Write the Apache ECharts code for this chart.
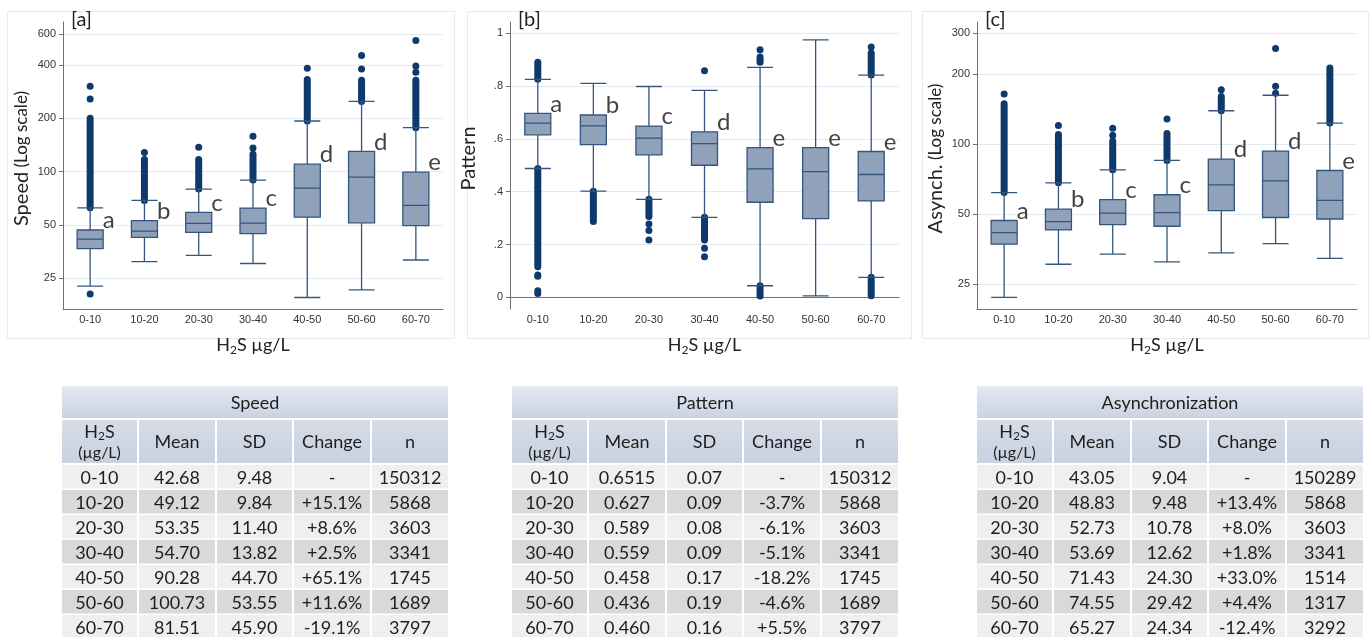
<!DOCTYPE html>
<html><head><meta charset="utf-8">
<script src="https://cdn.jsdelivr.net/npm/echarts@6/dist/echarts.min.js"></script>
<style>html,body{margin:0;padding:0;background:#fff}#c{width:1370px;height:637px}</style>
</head><body><div id="c"></div><script>
// ---------------- data ----------------
const categories = ['0-10', '10-20', '20-30', '30-40', '40-50', '50-60', '60-70'];

// boxplot: [lower whisker, Q1, median, Q3, upper whisker]
const speedBox = [
  [22.5, 36.6, 41.5, 46.7, 62.3],
  [30.9, 42.4, 46.0, 52.7, 68.6],
  [33.6, 45.3, 50.9, 58.7, 79.5],
  [30.2, 44.5, 51.1, 62.1, 89.4],
  [19.4, 55.2, 80.5, 110, 193],
  [21.4, 51.3, 92.9, 130, 249],
  [31.6, 49.4, 64.3, 99.1, 177]
];
// dense outlier runs: [category index, from, to]
const speedOutlierRuns = [[0, 62.3, 200], [1, 68.6, 117], [2, 79.5, 117], [3, 89.4, 125], [4, 193, 331], [5, 249, 328], [6, 177, 328]];
// single outliers: [category index, value]
const speedOutliers = [[0, 20.3], [0, 257], [0, 303], [1, 128], [2, 137], [3, 136], [3, 158], [4, 383], [5, 380], [5, 453], [6, 364], [6, 395], [6, 551]];
const speedLetters = ['a', 'b', 'c', 'c', 'd', 'd', 'e'];
const speedTicks = [25, 50, 100, 200, 400, 600];

const patternBox = [
  [0.4876, 0.615, 0.659, 0.696, 0.825],
  [0.402, 0.578, 0.649, 0.690, 0.810],
  [0.371, 0.539, 0.6025, 0.648, 0.798],
  [0.303, 0.500, 0.582, 0.6265, 0.783],
  [0.044, 0.360, 0.486, 0.567, 0.870],
  [0.006, 0.298, 0.476, 0.567, 0.974],
  [0.076, 0.365, 0.465, 0.552, 0.841]
];
const patternOutlierRuns = [[0, 0.825, 0.89], [0, 0.116, 0.4876], [1, 0.287, 0.402], [2, 0.306, 0.371], [3, 0.217, 0.303], [4, 0.89, 0.91], [4, 0.005, 0.044], [6, 0.841, 0.925], [6, 0.006, 0.076]];
const patternOutliers = [[0, 0.085], [0, 0.08], [0, 0.025], [0, 0.015], [2, 0.278], [2, 0.253], [2, 0.217], [3, 0.858], [3, 0.186], [3, 0.154], [4, 0.937], [6, 0.947]];
const patternLetters = ['a', 'b', 'c', 'd', 'e', 'e', 'e'];
const patternTicks = [0, 0.2, 0.4, 0.6, 0.8, 1];

const asynchBox = [
  [22.0, 37.2, 41.7, 47.0, 61.9],
  [30.5, 42.8, 46.5, 52.6, 68.2],
  [33.7, 45.1, 50.5, 57.8, 77.5],
  [31.2, 44.4, 50.8, 60.6, 85.1],
  [34.1, 51.8, 66.8, 86.2, 139],
  [37.4, 48.4, 69.5, 93.3, 162],
  [32.3, 47.7, 57.3, 77.0, 123]
];
const asynchOutlierRuns = [[0, 61.9, 149], [1, 68.2, 110], [2, 77.5, 103], [3, 85.1, 111], [4, 139, 160], [6, 123, 212]];
const asynchOutliers = [[0, 164], [1, 120], [2, 109], [2, 117], [3, 128], [4, 171], [5, 165], [5, 177], [5, 257]];
const asynchLetters = ['a', 'b', 'c', 'c', 'd', 'd', 'e'];
const asynchTicks = [25, 50, 100, 200, 300];

// tables
const tableColumns = ['H2S', 'Mean', 'SD', 'Change', 'n'];
const speedMean = ['42.68', '49.12', '53.35', '54.70', '90.28', '100.73', '81.51'];
const speedSD = ['9.48', '9.84', '11.40', '13.82', '44.70', '53.55', '45.90'];
const speedChange = ['-', '+15.1%', '+8.6%', '+2.5%', '+65.1%', '+11.6%', '-19.1%'];
const speedN = ['150312', '5868', '3603', '3341', '1745', '1689', '3797'];

const patternMean = ['0.6515', '0.627', '0.589', '0.559', '0.458', '0.436', '0.460'];
const patternSD = ['0.07', '0.09', '0.08', '0.09', '0.17', '0.19', '0.16'];
const patternChange = ['-', '-3.7%', '-6.1%', '-5.1%', '-18.2%', '-4.6%', '+5.5%'];
const patternN = ['150312', '5868', '3603', '3341', '1745', '1689', '3797'];

const asynchMean = ['43.05', '48.83', '52.73', '53.69', '71.43', '74.55', '65.27'];
const asynchSD = ['9.04', '9.48', '10.78', '12.62', '24.30', '29.42', '24.34'];
const asynchChange = ['-', '+13.4%', '+8.0%', '+1.8%', '+33.0%', '+4.4%', '-12.4%'];
const asynchN = ['150289', '5868', '3603', '3341', '1514', '1317', '3292'];

// ---------------- styling / layout ----------------
const DOT = '#0d3a6b';
const BOX_FILL = '#8fa2ba';
const BOX_LINE = '#34557e';
const AXIS = '#707070';
const GRIDLINE = '#e3ebf0';
const TICKFONT = 'Liberation Sans, Arial, sans-serif';
const TEXTFONT = 'Lato, sans-serif';

const panels = [
  { key: 'a', box: speedBox, runs: speedOutlierRuns, pts: speedOutliers, letters: speedLetters, ticks: speedTicks,
    log: true, min: 16.7, max: 700, left: 63, width: 380, yname: '{a|Speed}{b| (Log scale)}', tag: '[a]', frame: [7, 11, 447, 327] },
  { key: 'b', box: patternBox, runs: patternOutlierRuns, pts: patternOutliers, letters: patternLetters, ticks: patternTicks,
    log: false, min: -0.044, max: 1.042, left: 510, width: 389, yname: '{a|Pattern}', tag: '[b]', frame: [467, 11, 444, 327] },
  { key: 'c', box: asynchBox, runs: asynchOutlierRuns, pts: asynchOutliers, letters: asynchLetters, ticks: asynchTicks,
    log: true, min: 19.6, max: 334, left: 977, width: 380, yname: '{a|Asynch.}{b| (Log scale)}', tag: '[c]', frame: [922, 11, 446, 327] }
];

const grids = [], xAxes = [], yAxes = [], series = [], graphics = [];

function runRender(params, api) {
  const x = api.value(0);
  const a = api.coord([x, api.value(1)]);
  const b = api.coord([x, api.value(2)]);
  return { type: 'line', shape: { x1: a[0], y1: a[1], x2: b[0], y2: b[1] },
    style: { stroke: DOT, lineWidth: 7, lineCap: 'round' } };
}

panels.forEach((p, i) => {
  graphics.push({ type: 'rect', z: -10, shape: { x: p.frame[0] + 0.5, y: p.frame[1] + 0.5, width: p.frame[2], height: p.frame[3] },
    style: { fill: 'none', stroke: '#e6e9ee', lineWidth: 1 } });
  graphics.push({ type: 'text', x: p.left + 8, y: 10, z: 10,
    style: { text: p.tag, fontSize: 20, fontFamily: TEXTFONT, fill: '#222' } });

  grids.push({ left: p.left, top: 22, width: p.width, height: 287 });
  xAxes.push({
    gridIndex: i, type: 'category', data: categories,
    axisLine: { lineStyle: { color: AXIS, width: 1 } },
    axisTick: { show: false },
    axisLabel: { color: '#333', fontSize: 11, fontFamily: TICKFONT, margin: 5 },
    splitLine: { show: false },
    name: '{n|H}{s|2}{n|S µg/L}', nameLocation: 'middle', nameGap: 25,
    nameTextStyle: { rich: {
      n: { fontSize: 18, fontFamily: TEXTFONT, color: '#222', lineHeight: 22 },
      s: { fontSize: 12, fontFamily: TEXTFONT, color: '#222', lineHeight: 11, verticalAlign: 'bottom' } } }
  });
  yAxes.push({
    gridIndex: i, type: p.log ? 'log' : 'value', logBase: 10, min: p.min, max: p.max,
    axisLine: { show: true, lineStyle: { color: AXIS, width: 1 } },
    axisTick: { show: true, length: 4, lineStyle: { color: AXIS }, customValues: p.ticks },
    axisLabel: { color: '#333', fontSize: 11, fontFamily: TICKFONT, margin: 7, customValues: p.ticks,
      formatter: p.log ? (v => String(Math.round(v))) : (v => v === 0 ? '0' : (v === 1 ? '1' : '.' + Math.round(v * 10))) },
    splitLine: { show: true, lineStyle: { color: GRIDLINE, width: 1 } },
    name: p.yname, nameLocation: 'middle', nameGap: 31, nameRotate: 90,
    nameTextStyle: { padding: [0, 0, 0, 14], rich: {
      a: { fontSize: 20, fontFamily: TEXTFONT, color: '#222' },
      b: { fontSize: 17, fontFamily: TEXTFONT, color: '#222' } } }
  });

  series.push({
    type: 'custom', xAxisIndex: i, yAxisIndex: i, z: 2, silent: true,
    renderItem: runRender, encode: { x: 0, y: [1, 2] }, data: p.runs
  });
  series.push({
    type: 'scatter', xAxisIndex: i, yAxisIndex: i, z: 2, silent: true,
    symbolSize: 7, itemStyle: { color: DOT, opacity: 1 }, data: p.pts
  });
  series.push({
    type: 'boxplot', xAxisIndex: i, yAxisIndex: i, z: 3, silent: true,
    boxWidth: [26, 26],
    itemStyle: { color: BOX_FILL, borderColor: BOX_LINE, borderWidth: 1.3 },
    data: p.box
  });
  series.push({
    type: 'scatter', xAxisIndex: i, yAxisIndex: i, z: 4, silent: true,
    symbolSize: 1, itemStyle: { color: 'rgba(0,0,0,0)' },
    data: p.box.map((b, k) => [k, b[3]]),
    label: { show: true, position: [13, 3], align: 'left', verticalAlign: 'bottom',
      formatter: q => p.letters[q.dataIndex], fontSize: 24, fontFamily: TEXTFONT, color: '#111' }
  });
});

// ---------------- tables (drawn as graphic elements) ----------------
const tables = [
  { left: 62, title: 'Speed', cols: [categories, speedMean, speedSD, speedChange, speedN] },
  { left: 512, title: 'Pattern', cols: [categories, patternMean, patternSD, patternChange, patternN] },
  { left: 977, title: 'Asynchronization', cols: [categories, asynchMean, asynchSD, asynchChange, asynchN] }
];
const colEdges = [0, 76, 154, 231, 309, 386];
const TITLE_Y = 386, TITLE_H = 32, HEAD_Y = 420, HEAD_H = 43, ROW_Y = 465, ROW_P = 25, ROW_H = 23.5;
const tText = '#1e1e1e';
const TFS = 18;

tables.forEach(t => {
  const W = colEdges[colEdges.length - 1];
  graphics.push({ type: 'rect', shape: { x: t.left, y: TITLE_Y, width: W, height: TITLE_H },
    style: { fill: new echarts.graphic.LinearGradient(0, 0, 0, 1, [{ offset: 0, color: '#e3e8f1' }, { offset: 1, color: '#cbd3e2' }]) } });
  graphics.push({ type: 'text', x: t.left + W / 2, y: TITLE_Y + TITLE_H / 2 + 1,
    style: { text: t.title, fontSize: TFS, fontFamily: TEXTFONT, fill: tText, align: 'center', verticalAlign: 'middle' } });
  for (let j = 0; j < 5; j++) {
    const x0 = t.left + colEdges[j] + (j > 0 ? 1 : 0);
    const x1 = t.left + colEdges[j + 1] - (j < 4 ? 1 : 0);
    graphics.push({ type: 'rect', shape: { x: x0, y: HEAD_Y, width: x1 - x0, height: HEAD_H },
      style: { fill: new echarts.graphic.LinearGradient(0, 0, 0, 1, [{ offset: 0, color: '#d6dce8' }, { offset: 1, color: '#c9d1df' }]) } });
    if (j === 0) {
      graphics.push({ type: 'text', x: (x0 + x1) / 2, y: HEAD_Y + HEAD_H / 2 + 1,
        style: { text: '{n|H}{s|2}{n|S}\n{u|(µg/L)}', align: 'center', verticalAlign: 'middle', fill: tText,
          rich: {
            n: { fontSize: TFS, fontFamily: TEXTFONT, fill: tText, lineHeight: 20 },
            s: { fontSize: 12, fontFamily: TEXTFONT, fill: tText, lineHeight: 11, verticalAlign: 'bottom' },
            u: { fontSize: 16, fontFamily: TEXTFONT, fill: tText, lineHeight: 20 } } } });
    } else {
      graphics.push({ type: 'text', x: (x0 + x1) / 2, y: HEAD_Y + HEAD_H / 2 + 1,
        style: { text: tableColumns[j], fontSize: TFS, fontFamily: TEXTFONT, fill: tText, align: 'center', verticalAlign: 'middle' } });
    }
    for (let r = 0; r < 7; r++) {
      const y = ROW_Y + r * ROW_P;
      graphics.push({ type: 'rect', shape: { x: x0, y: y, width: x1 - x0, height: ROW_H },
        style: { fill: r % 2 === 0 ? '#efefef' : '#d9d9d9' } });
      graphics.push({ type: 'text', x: (x0 + x1) / 2, y: y + ROW_H / 2 + 1,
        style: { text: t.cols[j][r], fontSize: TFS, fontFamily: TEXTFONT, fill: tText, align: 'center', verticalAlign: 'middle' } });
    }
  }
});

const chart = echarts.init(document.getElementById('c'), null, { renderer: 'canvas' });
chart.setOption({
  animation: false,
  backgroundColor: '#ffffff',
  grid: grids, xAxis: xAxes, yAxis: yAxes, series: series, graphic: graphics
});
</script></body></html>
